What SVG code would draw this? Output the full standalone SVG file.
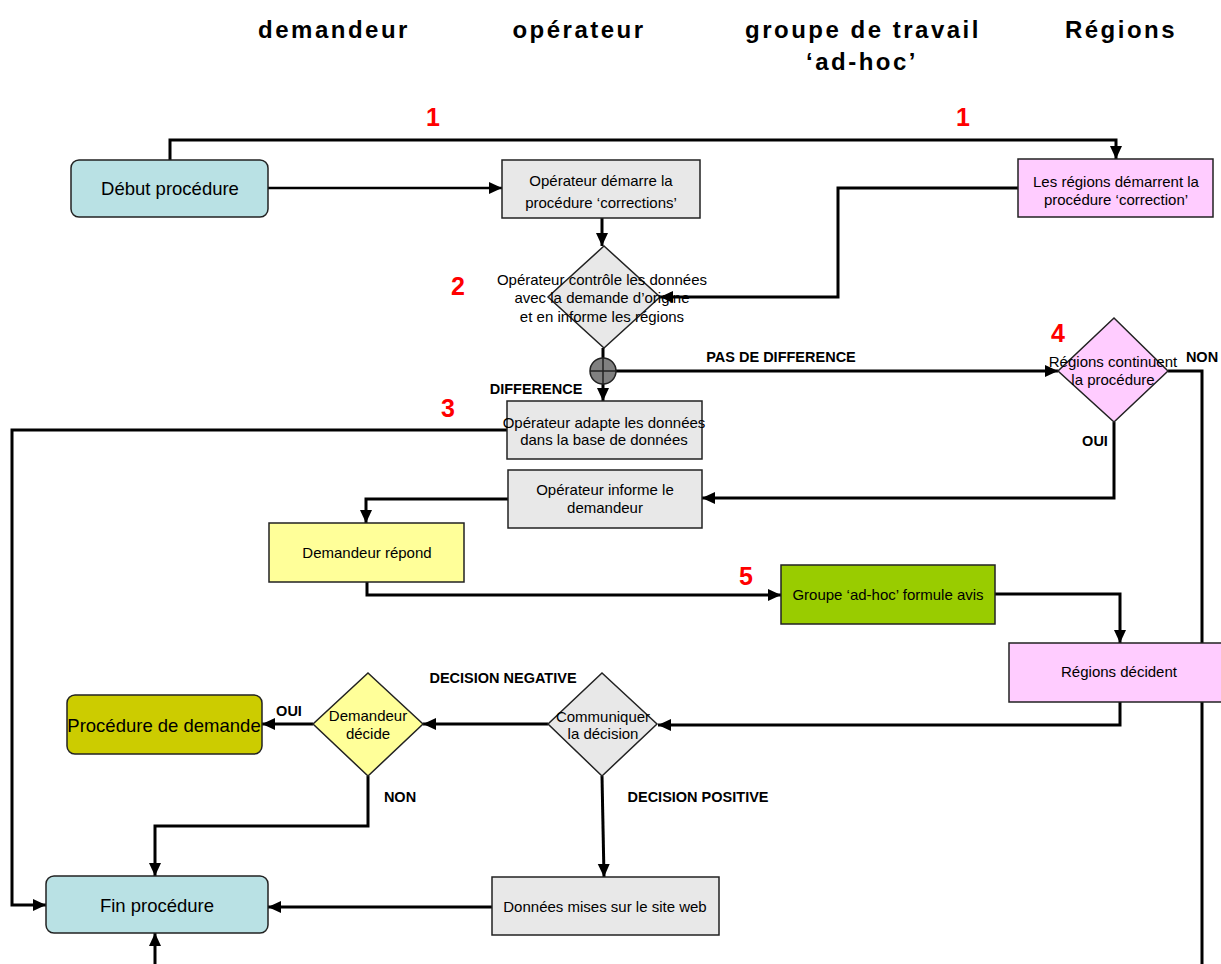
<svg xmlns="http://www.w3.org/2000/svg" width="1221" height="964" viewBox="0 0 1221 964">
<defs>
<marker id="ah" markerUnits="userSpaceOnUse" markerWidth="14" markerHeight="14" viewBox="0 0 14 14" refX="13" refY="7" orient="auto">
<path d="M0,1 L13,7 L0,13 Z" fill="#000"/>
</marker>
</defs>
<style>
text{font-family:"Liberation Sans",Arial,sans-serif;fill:#000}
.hd{font-size:24px;font-weight:bold;letter-spacing:2.5px;text-anchor:middle}
.num{font-size:25px;font-weight:bold;fill:#ff0000;text-anchor:middle}
.t{font-size:15px;text-anchor:middle}
.tl{font-size:18.5px;text-anchor:middle}
.lb{font-size:14.5px;font-weight:bold;text-anchor:middle}
.box{stroke:#222;stroke-width:1.5}
.grey{fill:#e8e8e8}
.cyan{fill:#b9e1e4}
.pink{fill:#ffccff}
.yel{fill:#ffff99}
.grn{fill:#99cc00}
.olv{fill:#cccc00}
.c{fill:none;stroke:#000;stroke-width:3}
.ca{fill:none;stroke:#000;stroke-width:3;marker-end:url(#ah)}
</style>
<rect width="1221" height="964" fill="#fff"/>
<g id="headers">
<text class="hd" x="334" y="38">demandeur</text>
<text class="hd" x="579" y="38">opérateur</text>
<text class="hd" x="863" y="38">groupe de travail</text>
<text class="hd" x="862" y="70">‘ad-hoc’</text>
<text class="hd" x="1121" y="38">Régions</text>
</g>
<g id="numbers">
<text class="num" x="433" y="126">1</text>
<text class="num" x="963" y="126">1</text>
<text class="num" x="458" y="295">2</text>
<text class="num" x="448" y="417">3</text>
<text class="num" x="1058" y="342">4</text>
<text class="num" x="746" y="585">5</text>
</g>
<g id="connectors">
<path class="ca" d="M170,160 V140 H1116 V159"/>
<path class="ca" style="stroke-width:2.5" d="M268,188 H502"/>
<path class="ca" d="M602,218 V246"/>
<path class="ca" d="M1018,188 H838 V297 H660"/>
<path class="c" d="M603,348 V358"/>
<path class="ca" d="M603,384 V401"/>
<path class="ca" d="M616,371 H1058"/>
<path class="ca" d="M507,430 H12 V905 H46"/>
<path class="c" d="M1168,371 H1202 V964"/>
<path class="ca" d="M1114,422 V498 H702"/>
<path class="ca" d="M508,499 H366 V523"/>
<path class="ca" d="M367,582 V595 H781"/>
<path class="ca" d="M995,594 H1120 V643"/>
<path class="ca" d="M1120,702 V725 H658"/>
<path class="ca" d="M548,724 H423"/>
<path class="ca" d="M313,724 H262"/>
<path class="ca" d="M368,776 V826 H155 V876"/>
<path class="ca" d="M602,776 L604,877"/>
<path class="ca" d="M492,907 H268"/>
<path class="ca" d="M155,964 V933"/>
</g>
<g id="labels">
<text class="lb" x="781" y="362">PAS DE DIFFERENCE</text>
<text class="lb" x="536" y="394">DIFFERENCE</text>
<text class="lb" x="1202" y="362">NON</text>
<text class="lb" x="1095" y="446">OUI</text>
<text class="lb" x="503" y="683">DECISION NEGATIVE</text>
<text class="lb" x="289" y="716">OUI</text>
<text class="lb" x="400" y="802">NON</text>
<text class="lb" x="698" y="802">DECISION POSITIVE</text>
</g>
<g id="n_debut">
<rect class="box cyan" x="71" y="160" width="197" height="57" rx="8"/>
<text class="tl" x="170" y="195">Début procédure</text>
</g>
<g id="n_op_demarre">
<rect class="box grey" x="502" y="160" width="198" height="58"/>
<text class="t" x="601" y="186">Opérateur démarre la</text>
<text class="t" x="601" y="208">procédure ‘corrections’</text>
</g>
<g id="n_regions_demarrent">
<rect class="box pink" x="1018" y="159" width="195" height="58"/>
<text class="t" x="1116" y="187">Les régions démarrent la</text>
<text class="t" x="1116" y="205">procédure ‘correction’</text>
</g>
<g id="n_op_controle">
<polygon class="box grey" points="604,246 660,297 604,348 548,297"/>
<text class="t" x="602" y="285">Opérateur contrôle les données</text>
<text class="t" x="602" y="303">avec la demande d’origine</text>
<text class="t" x="602" y="322">et en informe les régions</text>
</g>
<g id="n_junction">
<circle cx="603" cy="371" r="13" fill="#808080" stroke="#222" stroke-width="1.5"/>
<path d="M590,371 H616 M603,358 V384" stroke="#222" stroke-width="1.5"/>
</g>
<g id="n_op_adapte">
<rect class="box grey" x="507" y="401" width="195" height="58"/>
<text class="t" x="604" y="428">Opérateur adapte les données</text>
<text class="t" x="604" y="445">dans la base de données</text>
</g>
<g id="n_regions_continuent">
<polygon class="box pink" points="1114,318 1168,371 1114,422 1058,371"/>
<text class="t" x="1113" y="367">Régions continuent</text>
<text class="t" x="1113" y="385">la procédure</text>
</g>
<g id="n_op_informe">
<rect class="box grey" x="508" y="470" width="194" height="58"/>
<text class="t" x="605" y="495">Opérateur informe le</text>
<text class="t" x="605" y="513">demandeur</text>
</g>
<g id="n_dem_repond">
<rect class="box yel" x="269" y="523" width="195" height="59"/>
<text class="t" x="367" y="558">Demandeur répond</text>
</g>
<g id="n_groupe">
<rect class="box grn" x="781" y="565" width="214" height="59"/>
<text class="t" x="888" y="600">Groupe ‘ad-hoc’ formule avis</text>
</g>
<g id="n_regions_decident">
<rect class="box pink" x="1009" y="643" width="220" height="59"/>
<text class="t" x="1119" y="677">Régions décident</text>
</g>
<g id="n_communiquer">
<polygon class="box grey" points="602,673 657,724 602,776 548,724"/>
<text class="t" x="603" y="722">Communiquer</text>
<text class="t" x="603" y="739">la décision</text>
</g>
<g id="n_dem_decide">
<polygon class="box yel" points="368,673 423,724 368,776 313,724"/>
<text class="t" x="368" y="721">Demandeur</text>
<text class="t" x="368" y="739">décide</text>
</g>
<g id="n_proc_demande">
<rect class="box olv" x="67" y="695" width="195" height="59" rx="8"/>
<text class="tl" x="164" y="732">Procédure de demande</text>
</g>
<g id="n_fin">
<rect class="box cyan" x="46" y="876" width="222" height="57" rx="8"/>
<text class="tl" x="157" y="912">Fin procédure</text>
</g>
<g id="n_donnees">
<rect class="box grey" x="492" y="877" width="227" height="58"/>
<text class="t" x="605" y="912">Données mises sur le site web</text>
</g>
</svg>
